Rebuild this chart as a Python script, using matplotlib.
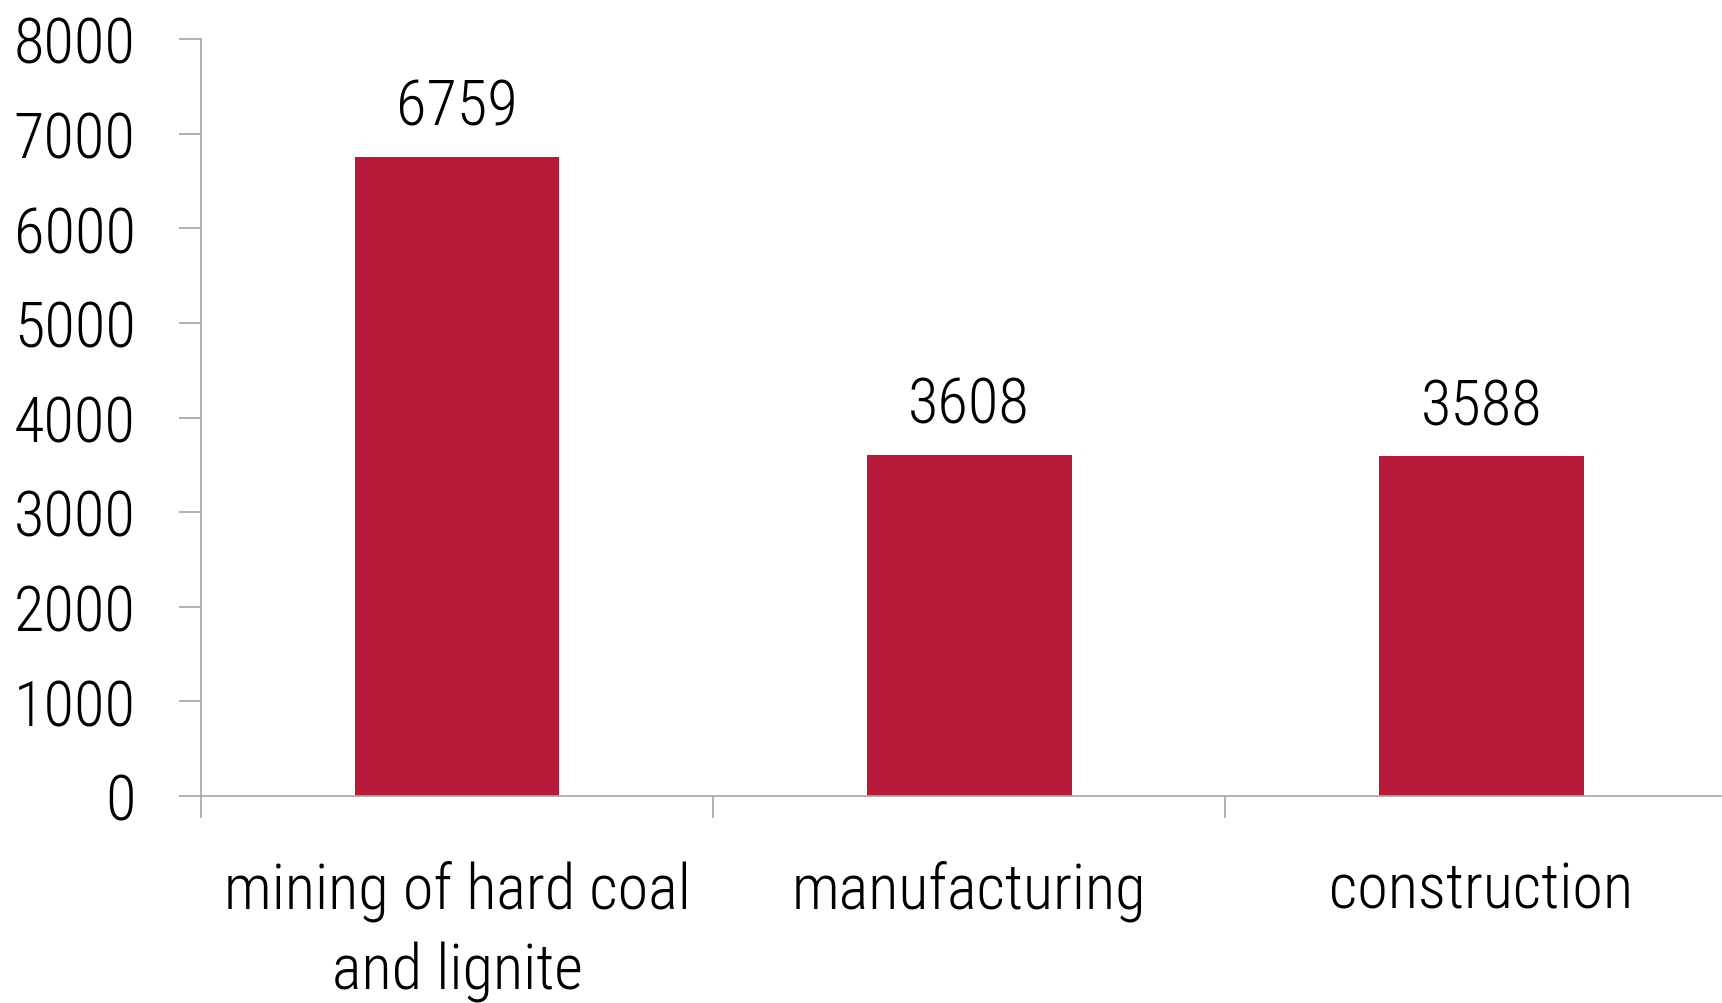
import matplotlib
matplotlib.use("Agg")
import matplotlib.pyplot as plt

plt.rcParams['font.family'] = ['Roboto Condensed', 'Roboto', 'DejaVu Sans']
plt.rcParams['font.weight'] = 'light'

categories = ['mining of hard coal\nand lignite', 'manufacturing', 'construction']
values = [6759, 3608, 3588]
yticks = [0, 1000, 2000, 3000, 4000, 5000, 6000, 7000, 8000]

bar_color = '#B81939'
axis_color = '#A6A6A6'

fig = plt.figure(figsize=(17.22, 10.04), dpi=100)
ax = fig.add_axes([0.1167, 0.2063, 1.009 - 0.1167, 0.9600 - 0.2063])

x = list(range(len(categories)))
bars = ax.bar(x, values, width=0.4, color=bar_color)
for b, v in zip(bars, values):
    ax.annotate(str(v), (b.get_x() + b.get_width() / 2, v), xytext=(0, 14),
                textcoords='offset points', ha='center', va='bottom', fontsize=45)

ax.set_xlim(-0.5, 2.5)
ax.set_ylim(0, 8000)
ax.set_yticks(yticks)
ax.set_yticklabels([str(t) for t in yticks])
ax.set_xticks(x)
ax.set_xticklabels(categories, linespacing=1.42)
ax.set_xticks([-0.5, 0.5, 1.5], minor=True)

for s in ['top', 'right']:
    ax.spines[s].set_visible(False)
for s in ['left', 'bottom']:
    ax.spines[s].set_color(axis_color)
    ax.spines[s].set_linewidth(1.2)

ax.tick_params(axis='y', length=16, width=1.2, color=axis_color, pad=31, labelsize=45)
ax.tick_params(axis='x', which='major', length=0, pad=46, labelsize=45)
ax.tick_params(axis='x', which='minor', length=16, width=1.2, color=axis_color)

fig.savefig('out.png', dpi=100)
